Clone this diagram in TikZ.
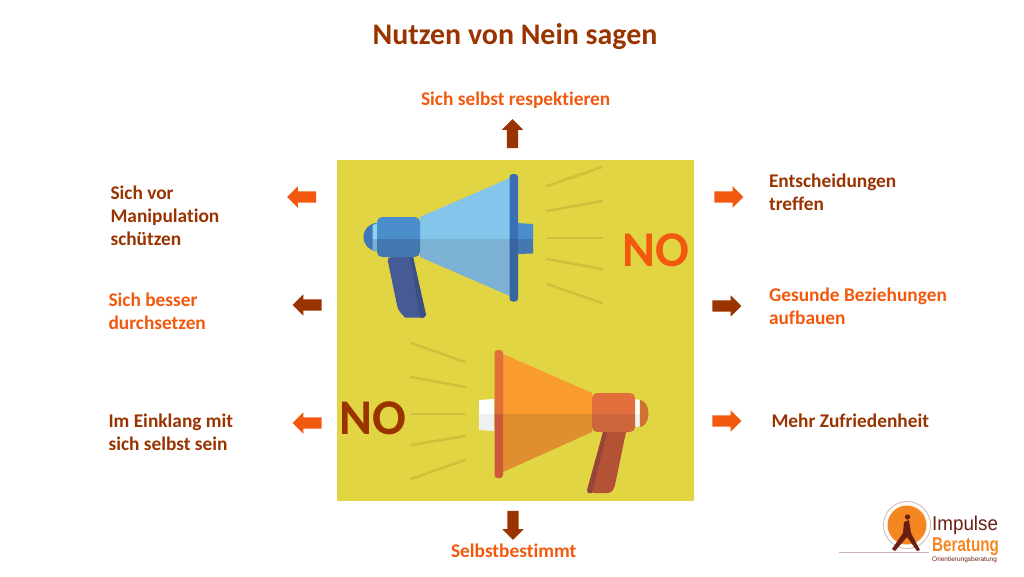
\documentclass[tikz,border=0pt]{standalone}
\usepackage{fontspec}
\setmainfont{Carlito}[Ligatures=CommonOff]
\newfontfamily\logofont{Liberation Sans}
\usetikzlibrary{shapes.arrows}

\definecolor{dunkel}{HTML}{993300}
\definecolor{hell}{HTML}{F2590F}
\definecolor{gelb}{HTML}{E2D544}
\definecolor{strahl}{HTML}{D3BE3C}

\tikzset{
    blockarrow/.style={single arrow, minimum height=29pt, single arrow head extend=5pt, single arrow head indent=0pt, inner sep=5.5pt, fill=#1},
    label/.style={anchor=west, align=left, font=\bfseries\fontsize{19.35}{23}\selectfont, text=#1},
    ray/.style={color=strahl, line width=2.5pt, line cap=round},
}

\begin{document}
\begin{tikzpicture}[x=1pt,y=-1pt]
    \useasboundingbox (0,0) rectangle (1024,576);

    \fill[gelb] (337,160) rectangle (694,501);

    % blue megaphone
    \draw[ray] (547,186) -- (602,167);
    \draw[ray] (547,211) -- (602,201);
    \draw[ray] (547,238) -- (602,238);
    \draw[ray] (547,259) -- (602,269);
    \draw[ray] (547,284) -- (602,303);

    \fill[color={rgb,255:red,70;green,91;blue,150}] (387,257) -- (413,257) -- (426,315) -- (424,317.5) -- (405,317.5) [rounded corners=4pt] -- (398,310) -- cycle;
    \fill[color={rgb,255:red,61;green,80;blue,132}] (410,257) -- (413,257) -- (426,315) -- (424,317.5) -- (420,317.5) -- cycle;
    \fill[color={rgb,255:red,63;green,120;blue,184}] (377,223) arc (270:90:13.5 and 14) -- cycle;
    \fill[color={rgb,255:red,143;green,211;blue,245}] (372.5,225) -- (378,223) -- (378,239) -- (372.5,239) -- cycle;
    \fill[color={rgb,255:red,122;green,178;blue,214}] (372.5,239) -- (378,239) -- (378,251) -- (372.5,250) -- cycle;
    \fill[color={rgb,255:red,132;green,197;blue,236}] (420,217) -- (510,178) -- (510,239) -- (420,239) -- cycle;
    \fill[color={rgb,255:red,123;green,178;blue,214}] (420,239) -- (510,239) -- (510,296) -- (420,257) -- cycle;
    \fill[color={rgb,255:red,74;green,143;blue,203}] (518,223) -- (533,224) -- (533,239) -- (518,239) -- cycle;
    \fill[color={rgb,255:red,67;green,121;blue,176}] (518,239) -- (533,239) -- (533,253.5) -- (518,254) -- cycle;
    \fill[color={rgb,255:red,74;green,143;blue,203}, rounded corners=5pt] (420,217) -- (377,217) -- (377,245) -- (420,245) -- cycle;
    \fill[color={rgb,255:red,67;green,121;blue,176}] (377,239) [rounded corners=5pt] -- (377,257) -- (420,257) [sharp corners] -- (420,239) -- cycle;
    \fill[color={rgb,255:red,59;green,111;blue,181}, rounded corners=3pt] (509.5,174) -- (518,174) -- (518,245) -- (509.5,245) -- cycle;
    \fill[color={rgb,255:red,56;green,100;blue,159}] (509.5,239) [rounded corners=3pt] -- (509.5,301.5) -- (518,301.5) [sharp corners] -- (518,239) -- cycle;

    \node[text=hell, font=\bfseries\fontsize{50}{50}\selectfont] (noblau) at (655.5,250) {NO};

    % orange megaphone
    \draw[ray] (411,343) -- (465,362);
    \draw[ray] (411,377) -- (465,387);
    \draw[ray] (411,414) -- (465,414);
    \draw[ray] (411,445) -- (465,436);
    \draw[ray] (411,479) -- (465,460);

    \fill[color={rgb,255:red,180;green,82;blue,54}] (603,432) -- (626,432) -- (615,485) [rounded corners=4pt] -- (612,493) -- (590,493) [sharp corners] -- cycle;
    \fill[color={rgb,255:red,151;green,68;blue,58}] (603,432) -- (607,432) -- (592,493) -- (588,493) -- (587,490) -- cycle;
    \fill[color={rgb,255:red,204;green,115;blue,52}] (640,400) arc (-90:90:8.5 and 13.5) -- cycle;
    \fill[white] (635,399) -- (639.5,400) -- (639.5,414) -- (635,414) -- cycle;
    \fill[color={rgb,255:red,238;green,240;blue,241}] (635,414) -- (639.5,414) -- (639.5,426.5) -- (635,427) -- cycle;
    \fill[white] (479,400) -- (494,399) -- (494,414) -- (479,414) -- cycle;
    \fill[color={rgb,255:red,238;green,240;blue,241}] (479,414) -- (494,414) -- (494,431) -- (479,430) -- cycle;
    \fill[color={rgb,255:red,250;green,155;blue,48}] (503,354) -- (592,393) -- (592,414) -- (503,414) -- cycle;
    \fill[color={rgb,255:red,224;green,143;blue,48}] (503,414) -- (592,414) -- (592,432) -- (503,472) -- cycle;
    \fill[color={rgb,255:red,226;green,110;blue,60}, rounded corners=5pt] (592,393) -- (635,393) -- (635,420) -- (592,420) -- cycle;
    \fill[color={rgb,255:red,205;green,102;blue,58}] (592,414) -- (635,414) [rounded corners=5pt] -- (635,432) -- (592,432) [sharp corners] -- cycle;
    \fill[color={rgb,255:red,226;green,110;blue,60}, rounded corners=3pt] (494.5,350) -- (503,350) -- (503,420) -- (494.5,420) -- cycle;
    \fill[color={rgb,255:red,205;green,88;blue,58}] (494.5,414) [rounded corners=3pt] -- (494.5,478) -- (503,478) [sharp corners] -- (503,414) -- cycle;

    \node[text=dunkel, font=\bfseries\fontsize{50}{50}\selectfont] (nooranje) at (372.5,418) {NO};

    % title and arrows
    \node[text=dunkel, font=\bfseries\fontsize{29.9}{30}\selectfont] (titel) at (515,36.5) {Nutzen von Nein sagen};

    \node[blockarrow=dunkel, shape border rotate=90] (pfeiloben) at (512.5,136.5) {};
    \node[blockarrow=dunkel, shape border rotate=270] (pfeilunten) at (513,522.5) {};
    \node[blockarrow=hell, shape border rotate=180] (pfeillinks1) at (304.5,197) {};
    \node[blockarrow=dunkel, shape border rotate=180] (pfeillinks2) at (310,305) {};
    \node[blockarrow=hell, shape border rotate=180] (pfeillinks3) at (310,423) {};
    \node[blockarrow=hell] (pfeilrechts1) at (726,197) {};
    \node[blockarrow=dunkel] (pfeilrechts2) at (724,306) {};
    \node[blockarrow=hell] (pfeilrechts3) at (724,421) {};

    \node[label=hell] (respekt) at (417.5,100) {Sich selbst respektieren};
    \node[label=hell] (bestimmt) at (447.5,551) {Selbstbestimmt};
    \node[label=dunkel] (schutz) at (107,216) {Sich vor\\Manipulation\\schützen};
    \node[label=hell] (durchsetzen) at (105,311) {Sich besser\\durchsetzen};
    \node[label=dunkel] (einklang) at (105,432) {Im Einklang mit\\sich selbst sein};
    \node[label=dunkel] (entscheidung) at (765.5,192) {Entscheidungen\\treffen};
    \node[label=hell] (beziehung) at (765.5,306) {Gesunde Beziehungen\\aufbauen};
    \node[label=dunkel] (zufrieden) at (768,421) {Mehr Zufriedenheit};

    % logo
    \draw[color={rgb,255:red,205;green,180;blue,175}, line width=0.8pt] (839,552) -- (929,552);
    \draw[color={rgb,255:red,205;green,180;blue,175}, line width=0.8pt] (907,525) circle (23.5);
    \fill[color={rgb,255:red,245;green,135;blue,35}] (907,525) circle (19.5);
    \fill[color={rgb,255:red,107;green,31;blue,16}] (907.5,517) circle (2.7);
    \fill[color={rgb,255:red,107;green,31;blue,16}] (904,522) -- (909,520) -- (911,533) -- (920,550) -- (917,551) -- (907,537) -- (895,551) -- (892,549) -- (903,533) -- cycle;
    \node[anchor=west, inner sep=0pt, text={rgb,255:red,107;green,31;blue,16}, font=\logofont\fontsize{20}{20}\selectfont, xscale=0.94] (impulse) at (932,525) {Impulse};
    \node[anchor=west, inner sep=0pt, text={rgb,255:red,245;green,135;blue,35}, font=\logofont\bfseries\fontsize{20}{20}\selectfont, xscale=0.76] (beratung) at (932,546.5) {Beratung};
    \node[anchor=west, inner sep=0pt, text={rgb,255:red,107;green,31;blue,16}, font=\logofont\fontsize{6.5}{6.5}\selectfont] (orient) at (932,560) {Orientierungsberatung};
\end{tikzpicture}
\end{document}
